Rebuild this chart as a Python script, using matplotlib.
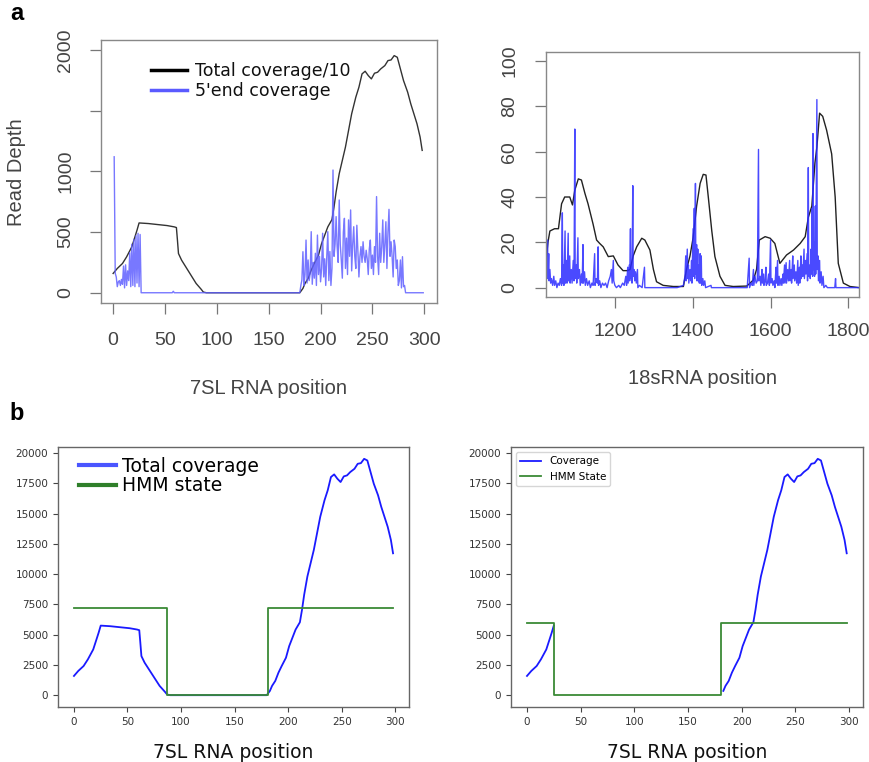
import matplotlib
matplotlib.use("Agg")
import matplotlib.pyplot as plt
import numpy as np
from matplotlib.lines import Line2D

# ---------------- data ----------------
# 7SL total coverage (position, depth)
cov7_pos = [0, 4, 9, 13, 18, 21, 23, 25, 34, 43, 52, 59, 61, 62, 63, 66, 71, 76, 80, 85, 87, 90,
            120, 150, 180, 183, 185, 188, 191, 194, 198, 201, 204, 207, 211, 213, 215, 218, 221,
            224, 227, 230, 234, 237, 240, 243, 246, 249, 252, 255, 258, 262, 265, 268, 271, 274,
            277, 280, 284, 287, 290, 293, 296, 298]
cov7_val = [1590, 2000, 2410, 2960, 3780, 4600, 5150, 5750, 5700, 5616, 5534, 5425, 5370, 4330,
            3230, 2685, 2000, 1315, 767, 274, 55, 0, 0, 0, 0, 356, 767, 1178, 1863, 2411, 3096,
            4055, 4740, 5425, 6027, 7068, 8301, 9808, 10904, 12000, 13370, 14740, 16110, 16932,
            18027, 18247, 17890, 17616, 18082, 18164, 18438, 18712, 19123, 19178, 19534, 19397,
            18438, 17480, 16521, 15562, 14740, 13918, 12822, 11726]

# 7SL 5'end coverage
end7_pos = [1, 2, 3, 4, 5, 6, 7, 8, 9, 10, 11, 12, 13, 14, 15, 16, 17, 18, 19, 20, 21, 22, 23,
            24, 25, 26, 27, 57, 58, 59, 180, 181, 182, 183, 184, 185, 186, 187, 188, 189, 190,
            191, 192, 193, 194, 195, 196, 197, 198, 199, 200, 201, 202, 203, 204, 205, 206, 207,
            208, 209, 210, 211, 212, 213, 214, 215, 216, 217, 218, 219, 220, 221, 222, 223, 224,
            225, 226, 227, 228, 229, 230, 231, 232, 233, 234, 235, 236, 237, 238, 239, 240, 241,
            242, 243, 244, 245, 246, 247, 248, 249, 250, 251, 252, 253, 254, 255, 256, 257, 258,
            259, 260, 261, 262, 263, 264, 265, 266, 267, 268, 269, 270, 271, 272, 273, 274, 275,
            276, 277, 278, 279, 280, 281, 282, 299]
end7_val = [1120, 160, 130, 50, 90, 100, 60, 110, 70, 220, 40, 230, 60, 180, 100, 330, 50, 400,
            60, 440, 50, 470, 80, 490, 50, 480, 0, 0, 12, 0, 0, 60, 105, 338, 60, 150, 434, 80,
            270, 100, 160, 503, 70, 250, 120, 325, 60, 475, 150, 300, 90, 200, 490, 130, 280, 60,
            300, 503, 100, 340, 60, 200, 1011, 300, 400, 627, 380, 250, 764, 400, 270, 120, 500,
            613, 200, 450, 150, 600, 300, 682, 180, 400, 544, 300, 200, 556, 350, 130, 300, 380,
            250, 420, 300, 250, 350, 280, 150, 360, 434, 200, 310, 150, 380, 250, 792, 300, 150,
            490, 250, 380, 600, 250, 400, 585, 200, 500, 687, 300, 420, 300, 130, 434, 380, 200,
            270, 60, 100, 270, 40, 297, 50, 60, 0, 0]

# 18S total coverage
cov18_pos = [1023, 1028, 1033, 1045, 1055, 1063, 1071, 1084, 1091, 1097, 1106, 1114, 1123, 1131,
             1144, 1153, 1161, 1170, 1183, 1196, 1208, 1221, 1232, 1239, 1247, 1256, 1269, 1277,
             1290, 1299, 1307, 1324, 1350, 1376, 1384, 1393, 1401, 1410, 1419, 1427, 1434, 1440,
             1449, 1457, 1470, 1483, 1504, 1539, 1556, 1564, 1571, 1586, 1599, 1611, 1624, 1641,
             1659, 1676, 1689, 1697, 1706, 1714, 1719, 1726, 1734, 1744, 1757, 1766, 1774, 1787,
             1804, 1828]
cov18_val = [12, 20, 25, 26, 26, 37, 40, 40, 36.5, 43, 48, 47.5, 41.6, 37, 28, 21, 19.5, 18,
             13.7, 14, 10, 7.5, 7.5, 8, 14, 18, 21.8, 21, 16.6, 8, 2.6, 1, 0.5, 0.5, 8, 14, 22,
             36, 46, 50, 49.7, 40, 25, 13.7, 5, 1, 0.5, 0.7, 3.4, 8, 21, 22.5, 21.8, 19.5, 10.7,
             14.4, 16.6, 19.5, 22.5, 31, 36, 55, 62, 77, 75.6, 69.5, 59, 40, 10.7, 2, 0.5, 0]

# 18S 5'end coverage
end18_pos = [1023, 1024, 1025, 1027, 1028, 1030, 1031, 1033, 1035, 1037, 1040, 1043, 1045, 1048,
             1051, 1054, 1057, 1060, 1063, 1065, 1066, 1068, 1069, 1072, 1073, 1075, 1077, 1080,
             1081, 1084, 1085, 1088, 1090, 1093, 1095, 1097, 1098, 1101, 1102, 1105, 1106, 1109,
             1111, 1114, 1116, 1118, 1119, 1122, 1124, 1127, 1130, 1134, 1137, 1141, 1144, 1148,
             1149, 1152, 1155, 1157, 1158, 1161, 1164, 1168, 1172, 1176, 1180, 1184, 1188, 1191,
             1193, 1196, 1197, 1200, 1204, 1210, 1214, 1220, 1224, 1228, 1230, 1233, 1234, 1237,
             1238, 1240, 1241, 1243, 1244, 1246, 1247, 1249, 1251, 1253, 1255, 1258, 1259, 1263,
             1270, 1276, 1277, 1300, 1360, 1376, 1380, 1382, 1383, 1386, 1387, 1389, 1390, 1393,
             1395, 1397, 1398, 1401, 1402, 1404, 1405, 1407, 1408, 1410, 1411, 1413, 1414, 1416,
             1417, 1419, 1420, 1422, 1423, 1426, 1428, 1431, 1433, 1447, 1448, 1540,
             1545, 1546, 1550, 1553, 1556, 1557, 1560, 1563, 1566, 1569, 1570, 1573, 1575, 1578,
             1579, 1582, 1583, 1586, 1588, 1589, 1592, 1595, 1597, 1600, 1601, 1604, 1606, 1609,
             1611, 1614, 1615, 1618, 1619, 1622, 1624, 1627, 1629, 1632, 1633, 1636, 1637, 1640,
             1641, 1644, 1646, 1649, 1650, 1653, 1654, 1657, 1658, 1661, 1662, 1665, 1667, 1670,
             1671, 1674, 1675, 1678, 1679, 1682, 1683, 1686, 1687, 1690, 1691, 1694, 1695, 1697,
             1698, 1701, 1702, 1704, 1705, 1707, 1708, 1709, 1710, 1712, 1713, 1715, 1716, 1719,
             1720, 1722, 1723, 1726, 1727, 1730, 1732, 1735, 1737, 1742, 1746, 1765, 1767, 1768,
             1828]
end18_val = [4, 21, 5, 21, 4, 15, 3, 8, 2, 4, 1, 5, 1, 3, 0, 2, 1, 4, 1, 33, 2, 10, 1, 25, 2, 12,
             2, 24, 3, 14, 2, 8, 2, 12, 3, 70, 4, 10, 2, 22, 4, 8, 1, 6, 2, 19, 2, 7, 1, 4, 1, 3,
             0, 2, 1, 15, 1, 4, 2, 18, 1, 3, 0, 2, 1, 2, 0, 3, 5, 8, 2, 12, 3, 1, 0, 1, 0, 2, 1,
             5, 1, 9, 2, 10, 3, 26, 4, 8, 2, 45, 5, 8, 3, 7, 2, 8, 0, 1, 0, 9, 0, 0, 0, 1, 5, 14,
             3, 17, 4, 10, 2, 8, 3, 12, 2, 26, 5, 35, 4, 46, 6, 19, 3, 17, 3, 10, 2, 15, 2, 14, 1,
             4, 1, 3, 0, 1, 0, 0,
             13, 0, 2, 1, 8, 1, 5, 2, 3, 61, 3, 5, 1, 8, 2, 6, 1, 3, 9, 1, 2, 6, 1, 21, 2, 4, 1,
             3, 0, 9, 2, 12, 1, 5, 1, 4, 1, 6, 2, 10, 2, 11, 2, 8, 3, 12, 3, 8, 2, 14, 4, 10, 3,
             7, 2, 12, 1, 9, 2, 14, 4, 10, 5, 17, 4, 12, 6, 15, 3, 53, 5, 10, 4, 17, 6, 35, 5, 68,
             8, 20, 5, 36, 6, 83, 8, 14, 3, 12, 2, 7, 1, 5, 0, 1, 0, 0, 4, 0, 0]

# HMM states (breakpoints and levels)
hmm_left_x = [0, 87, 87, 181, 181, 298]
hmm_left_y = [7200, 7200, 0, 0, 7200, 7200]
hmm_right_x = [0, 25, 25, 181, 181, 298]
hmm_right_y = [6000, 6000, 0, 0, 6000, 6000]
right_visible = [(0, 25), (181, 298)]

# ---------------- figure ----------------
W, H = 870, 762
fig = plt.figure(figsize=(W / 100, H / 100), dpi=100)


def rect(x0, y0, x1, y1):
    return [x0 / W, 1 - y1 / H, (x1 - x0) / W, (y1 - y0) / H]


RFONT = "Liberation Sans"
RGRAY = "#444444"


def r_style(ax, pad_x, pad_y):
    for s in ax.spines.values():
        s.set_color("#888888")
        s.set_linewidth(1.0)
    ax.tick_params(axis="both", direction="out", length=8, width=0.9, color="#777777",
                   labelcolor=RGRAY, labelsize=14)
    ax.tick_params(axis="x", pad=pad_x)
    ax.tick_params(axis="y", pad=pad_y)
    for lab in ax.get_yticklabels():
        lab.set_rotation(90)
        lab.set_va("center")
        lab.set_family(RFONT)
    for lab in ax.get_xticklabels():
        lab.set_family(RFONT)


# --- panel a left ---
ax1 = fig.add_axes(rect(100.7, 40, 436.7, 302.7))
ax1.plot(cov7_pos, np.array(cov7_val) / 10.0, color="#333333", lw=1.0)
ax1.plot(end7_pos, end7_val, color="#6060ff", lw=1.0, alpha=0.85)
ax1.set_xlim(-12, 312)
ax1.set_ylim(-82, 2082)
ax1.set_xticks([0, 50, 100, 150, 200, 250, 300])
ax1.set_yticks([0, 500, 1000, 1500, 2000])
ax1.set_yticklabels(["0", "500", "1000", "", "2000"])
r_style(ax1, 13, 11)
leg = ax1.legend(handles=[Line2D([], [], color="black", lw=2.5),
                          Line2D([], [], color="#5a5aff", lw=2.5)],
                 labels=["Total coverage/10", "5'end coverage"],
                 loc="center left", bbox_to_anchor=(151 / W, 1 - 81 / H),
                 bbox_transform=fig.transFigure, frameon=False, borderpad=0,
                 borderaxespad=0, handlelength=2.1, handletextpad=0.45, labelspacing=0.1,
                 prop={"family": "DejaVu Sans", "size": 12.5})
for t in leg.get_texts():
    t.set_color("#111111")

# --- panel a right ---
ax2 = fig.add_axes(rect(546, 52, 859.3, 296.7))
ax2.plot(cov18_pos, cov18_val, color="#222222", lw=1.0)
ax2.plot(end18_pos, end18_val, color="#2a2aff", lw=1.0, alpha=0.85)
ax2.set_xlim(1023, 1828)
ax2.set_ylim(-4, 104)
ax2.set_xticks([1200, 1400, 1600, 1800])
ax2.set_yticks([0, 20, 40, 60, 80, 100])
r_style(ax2, 11, 12)

fig.text(17 / W, 1 - 172 / H, "Read Depth", rotation=90, ha="center", va="center",
         family=RFONT, size=14.5, color=RGRAY)
fig.text(268 / W, 1 - 388 / H, "7SL RNA position", ha="center", va="center",
         family=RFONT, size=14.5, color=RGRAY)
fig.text(703 / W, 1 - 378 / H, "18sRNA position", ha="center", va="center",
         family=RFONT, size=14.5, color=RGRAY)
fig.text(17 / W, 1 - 14 / H, "a", ha="center", va="center", family=RFONT, size=17,
         weight="bold", color="black")
fig.text(17 / W, 1 - 413 / H, "b", ha="center", va="center", family=RFONT, size=17,
         weight="bold", color="black")


# --- panel b ---
def mpl_style(ax):
    for s in ax.spines.values():
        s.set_color("#666666")
        s.set_linewidth(1.0)
    ax.tick_params(axis="both", direction="out", length=3.5, width=0.8, color="#444444",
                   labelcolor="#333333", labelsize=7.5)
    ax.set_xticks([0, 50, 100, 150, 200, 250, 300])
    ax.set_yticks([0, 2500, 5000, 7500, 10000, 12500, 15000, 17500, 20000])
    ax.set_xlim(-14.9, 312.9)
    ax.set_ylim(-977, 20511)
    ax.set_xlabel("7SL RNA position", family="DejaVu Sans", size=13.5, color="#111111",
                  labelpad=12)


GREEN = "#3a8a36"
BLUE = "#1a1aff"

ax3 = fig.add_axes(rect(58, 447, 409, 707))
ax3.plot(cov7_pos, cov7_val, color=BLUE, lw=1.3)
ax3.plot(hmm_left_x, hmm_left_y, color=GREEN, lw=1.3)
mpl_style(ax3)
ax3.legend(handles=[Line2D([], [], color="#4a55ff", lw=3),
                    Line2D([], [], color="#2f7f2a", lw=3)],
           labels=["Total coverage", "HMM state"],
           loc="center left", bbox_to_anchor=(79 / W, 1 - 476 / H),
           bbox_transform=fig.transFigure, frameon=False, borderpad=0, borderaxespad=0,
           handlelength=1.95, handletextpad=0.35, labelspacing=0.05,
           prop={"family": "DejaVu Sans", "size": 13.5})

ax4 = fig.add_axes(rect(511, 447, 862.7, 707))
cp = np.array(cov7_pos)
cv = np.array(cov7_val, dtype=float)
first = True
for lo, hi in right_visible:
    m = (cp >= lo) & (cp <= hi)
    ax4.plot(cp[m], cv[m], color=BLUE, lw=1.3, label="Coverage" if first else None)
    first = False
ax4.plot(hmm_right_x, hmm_right_y, color=GREEN, lw=1.3, label="HMM State")
mpl_style(ax4)
ax4.legend(loc="upper left", prop={"family": "DejaVu Sans", "size": 7.5}, fancybox=True,
           framealpha=0.8, edgecolor="#cccccc")

fig.savefig("out.png", dpi=100)
